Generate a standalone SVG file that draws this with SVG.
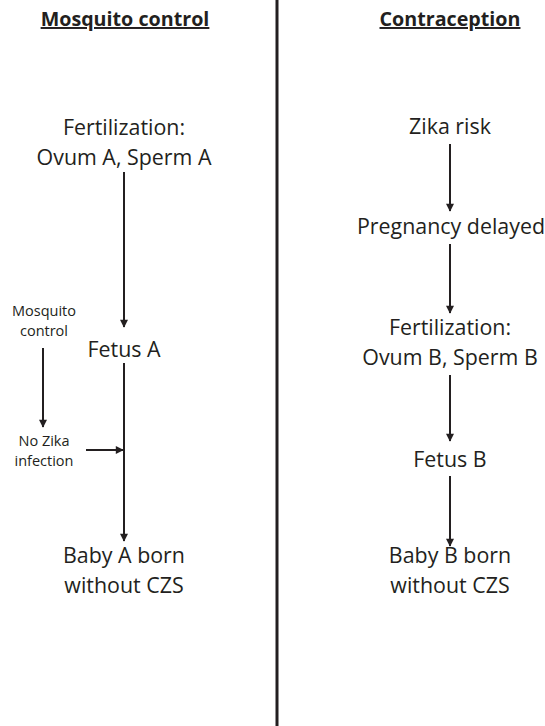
<svg xmlns="http://www.w3.org/2000/svg" width="545" height="726" viewBox="0 0 545 726">
<defs>
<marker id="ah" viewBox="0 0 10 10" refX="9" refY="5" markerWidth="4.5" markerHeight="4" orient="auto" markerUnits="strokeWidth">
<path d="M0,0 L10,5 L0,10 z" fill="#231f20"/>
</marker>
<style>
.t{font-family:"Open Sans","Liberation Sans",sans-serif;font-size:21.4px;fill:#231f20;text-anchor:middle}
.s{font-family:"Open Sans","Liberation Sans",sans-serif;font-size:14.5px;fill:#231f20;text-anchor:middle}
.h{font-family:"Open Sans","Liberation Sans",sans-serif;font-size:19.7px;font-weight:bold;fill:#231f20;text-anchor:middle;text-decoration:underline}
.c{stroke:#231f20;stroke-width:2;fill:none;marker-end:url(#ah)}
</style>
</defs>
<rect width="545" height="726" fill="#fff"/>
<line x1="277" y1="0" x2="277" y2="726" stroke="#231f20" stroke-width="3"/>
<g id="head-left"><text class="h" x="125" y="26">Mosquito control</text></g>
<g id="head-right"><text class="h" x="450" y="26">Contraception</text></g>
<g id="fert-a"><text class="t" x="124" y="135">Fertilization:</text><text class="t" x="124" y="165">Ovum A, Sperm A</text></g>
<g id="fetus-a"><text class="t" x="124" y="357">Fetus A</text></g>
<g id="baby-a"><text class="t" x="124" y="563">Baby A born</text><text class="t" x="124" y="593">without CZS</text></g>
<g id="mosq"><text class="s" x="44" y="316">Mosquito</text><text class="s" x="44" y="336">control</text></g>
<g id="nozika"><text class="s" x="44" y="446">No Zika</text><text class="s" x="44" y="466">infection</text></g>
<g id="zika"><text class="t" x="450" y="134">Zika risk</text></g>
<g id="preg"><text class="t" x="451" y="234">Pregnancy delayed</text></g>
<g id="fert-b"><text class="t" x="450" y="335">Fertilization:</text><text class="t" x="450" y="365">Ovum B, Sperm B</text></g>
<g id="fetus-b"><text class="t" x="450" y="467">Fetus B</text></g>
<g id="baby-b"><text class="t" x="450" y="563">Baby B born</text><text class="t" x="450" y="593">without CZS</text></g>
<g id="connectors">
<line class="c" x1="124" y1="172" x2="124" y2="327"/>
<line class="c" x1="124" y1="363" x2="124" y2="541"/>
<line class="c" x1="43" y1="348" x2="43" y2="427"/>
<line class="c" x1="86" y1="450" x2="123" y2="450"/>
<line class="c" x1="450" y1="144" x2="450" y2="211"/>
<line class="c" x1="450" y1="244" x2="450" y2="313"/>
<line class="c" x1="450" y1="375" x2="450" y2="441"/>
<line class="c" x1="450" y1="476" x2="450" y2="546"/>
</g>
</svg>
